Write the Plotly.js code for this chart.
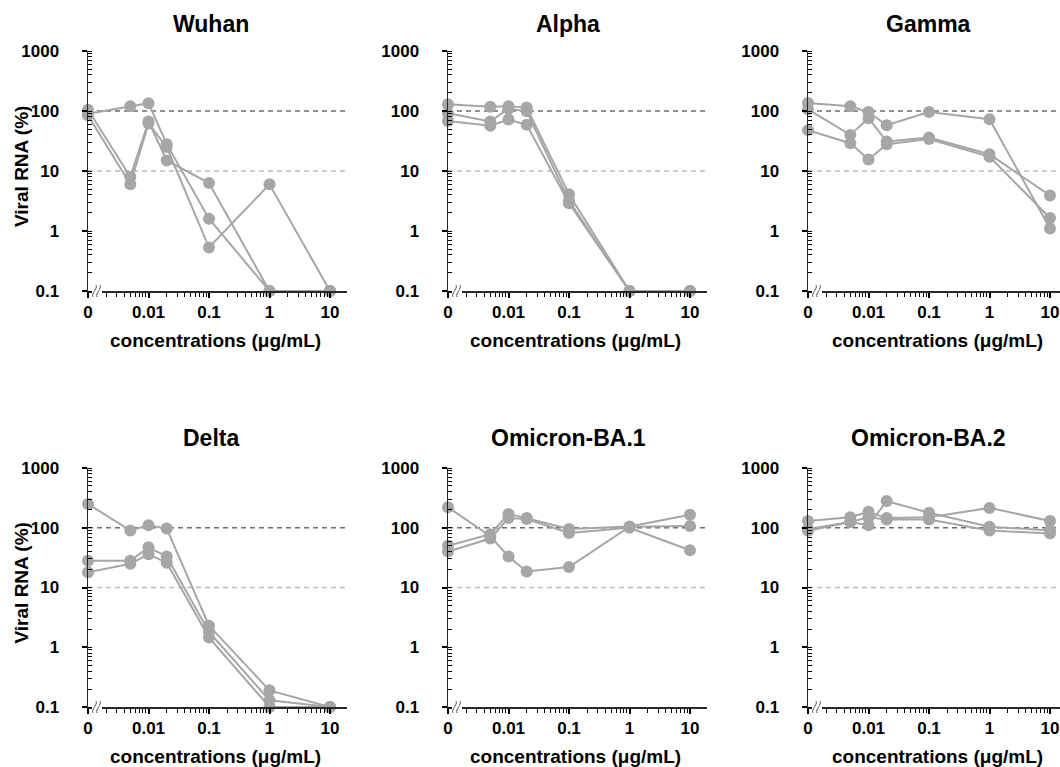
<!DOCTYPE html>
<html>
<head>
<meta charset="utf-8">
<script src="https://cdn.plot.ly/plotly-3.0.1.min.js"></script>
<style>html,body{margin:0;padding:0;background:#fff;}#chart{width:1060px;height:767px;}</style>
</head>
<body>
<div id="chart"></div>
<script>
// ---- data ----
const conc = [0, 0.005, 0.01, 0.02, 0.1, 1, 10];
const xZeroLabel = {"0.001": "0"};
const refLines = [100, 10];
const panelTitles = ["Wuhan", "Alpha", "Gamma", "Delta", "Omicron-BA.1", "Omicron-BA.2"];

const wuhan1 = [90, 120, 135, 28, 1.6, 0.1, 0.1];
const wuhan2 = [105, 8, 67, 15, 6.3, 0.1, 0.1];
const wuhan3 = [85, 6, 62, 25, 0.53, 6, 0.1];

const alpha1 = [130, 118, 120, 114, 4.1, 0.1, 0.1];
const alpha2 = [92, 67, 109, 99, 3.2, 0.1, 0.1];
const alpha3 = [68, 57, 72, 59, 2.9, 0.1, 0.1];

const gamma1 = [136, 120, 96, 58, 96, 73, 1.1];
const gamma2 = [107, 40, 76, 31, 36, 19, 3.9];
const gamma3 = [48, 29, 15.6, 28, 34, 17.3, 1.65];

const delta1 = [250, 90, 110, 97, 2.3, 0.19, 0.1];
const delta2 = [28, 28, 47, 33, 1.8, 0.13, 0.1];
const delta3 = [18, 25, 36, 26, 1.45, 0.1, 0.1];

const ba1_1 = [220, 72, 33, 18.5, 22, 104, 107];
const ba1_2 = [50, 78, 170, 145, 95, 105, 165];
const ba1_3 = [40, 66, 145, 140, 82, 100, 42];

const ba2_1 = [95, 125, 110, 280, 178, 104, 90];
const ba2_2 = [130, 150, 185, 145, 150, 215, 130];
const ba2_3 = [89, 125, 150, 137, 137, 90, 80];

const panelSeries = [
  [wuhan1, wuhan2, wuhan3],
  [alpha1, alpha2, alpha3],
  [gamma1, gamma2, gamma3],
  [delta1, delta2, delta3],
  [ba1_1, ba1_2, ba1_3],
  [ba2_1, ba2_2, ba2_3]
];

// ---- layout helpers ----
const W = 1060, H = 767;
const ZERO_POS = 0.001; // where "0" sits on the broken log axis
const toPos = v => (v === 0 ? ZERO_POS : v);

const colPx = [[88, 347], [448, 707], [808, 1060]];
const rowPx = [[51, 291], [468, 707]]; // top, bottom
const pxPerDecade = 60.5;
const FONT = "Liberation Sans, Arial, sans-serif";
const grey = "#a6a6a6";
const axisCol = "#262626";

const traces = [];
const layout = {
  width: W, height: H,
  margin: {l: 0, r: 0, t: 0, b: 0},
  paper_bgcolor: "#fff", plot_bgcolor: "#fff",
  showlegend: false,
  font: {family: FONT, size: 17, color: "#000"},
  shapes: [], annotations: []
};

panelSeries.forEach((series, p) => {
  const r = Math.floor(p / 3), c = p % 3;
  const n = p + 1;
  const xa = n === 1 ? "x" : "x" + n, ya = n === 1 ? "y" : "y" + n;
  const xk = n === 1 ? "xaxis" : "xaxis" + n, yk = n === 1 ? "yaxis" : "yaxis" + n;
  const [x0, x1] = colPx[c];
  const [yt, yb] = rowPx[r];
  const xmin = Math.log10(ZERO_POS);
  const xmax = xmin + (x1 - x0) / pxPerDecade;

  series.forEach(vals => {
    traces.push({
      x: conc.map(toPos), y: vals, xaxis: xa, yaxis: ya,
      type: "scatter", mode: "lines+markers", cliponaxis: false,
      line: {color: grey, width: 2},
      marker: {color: grey, size: 12}
    });
  });

  const xAxis = {
    type: "log", domain: [x0 / W, x1 / W], anchor: ya,
    range: [xmin, xmax],
    showline: true, linecolor: axisCol, linewidth: 1.5,
    tickmode: "linear", tick0: xmin, dtick: 1,
    exponentformat: "none", labelalias: xZeroLabel,
    ticks: "outside", ticklen: 5, tickwidth: 2, tickcolor: "#000",
    minor: {dtick: "D1", ticks: "outside", ticklen: 4, tickwidth: 1, tickcolor: "#000"},
    tickfont: {family: FONT, size: 17, color: "#000", weight: "bold"}
  };
  const yAxis = {
    type: "log", domain: [1 - yb / H, 1 - yt / H], anchor: xa,
    range: [-1, 3],
    showline: true, linecolor: axisCol, linewidth: 1.5,
    tickmode: "linear", tick0: -1, dtick: 1,
    exponentformat: "none",
    ticks: "outside", ticklen: 5, tickwidth: 2, tickcolor: "#000",
    minor: {dtick: "D1", ticks: "inside", ticklen: 4, tickwidth: 1, tickcolor: "#000"},
    tickfont: {family: FONT, size: 17, color: "#000", weight: "bold"},
    ticksuffix: "\u2007\u2007"
  };
  // per-panel variation of grid settings
  if (p !== 3) {
    xAxis.showgrid = false; xAxis.zeroline = false;
    yAxis.showgrid = false; yAxis.zeroline = false;
  } else {
    xAxis.gridcolor = "rgba(0,0,0,0)"; yAxis.gridcolor = "rgba(0,0,0,0)";
    xAxis.zeroline = false; yAxis.zeroline = false;
  }
  layout[xk] = xAxis;
  layout[yk] = yAxis;

  // reference dashed lines
  refLines.forEach((v, i) => {
    layout.shapes.push({
      type: "line", xref: xa + " domain", yref: ya,
      x0: 0, x1: 1, y0: v, y1: v, layer: "below",
      line: {color: i === 0 ? "#6e6e6e" : "#bcbcbc", width: 1.3, dash: "5px,4px"}
    });
  });

  // axis break mark
  const pw = x1 - x0, ph = yb - yt;
  const fx = px => px / pw, fy = px => px / ph;
  layout.shapes.push({
    type: "rect", xref: xa + " domain", yref: ya + " domain",
    x0: fx(4), x1: fx(14), y0: -fy(6), y1: fy(3),
    line: {width: 0}, fillcolor: "#fff", layer: "above"
  });
  [5, 9].forEach(ox => {
    const xa0 = fx(ox), xa1 = fx(ox + 3);
    const ylo = -fy(6), yhi = fy(6);
    layout.shapes.push({
      type: "path", xref: xa + " domain", yref: ya + " domain", layer: "above",
      path: `M ${xa0},${ylo} C ${fx(ox - 2)},${-fy(2)} ${fx(ox + 5)},${fy(2)} ${xa1},${yhi}`,
      line: {color: "#555", width: 1}
    });
  });

  // panel title
  const titleCx = [211, 568, 928][c];
  const titleCy = r === 0 ? 24 : 438;
  layout.annotations.push({
    text: panelTitles[p], xref: "paper", yref: "paper",
    x: titleCx / W, y: 1 - titleCy / H, xanchor: "center", yanchor: "middle",
    showarrow: false, font: {family: FONT, size: 23, color: "#000", weight: "bold"}
  });
  // x-axis title
  const xtCx = [215, 575, 937][c];
  layout.annotations.push({
    text: "concentrations (μg/mL)", xref: "paper", yref: "paper",
    x: xtCx / W, y: 1 - (yb + 49) / H, xanchor: "center", yanchor: "middle",
    showarrow: false, font: {family: FONT, size: 19, color: "#000", weight: "bold"}
  });
  // y-axis title (first column only)
  if (c === 0) {
    layout.annotations.push({
      text: "Viral RNA (%)", xref: "paper", yref: "paper",
      x: 21 / W, y: 1 - ((yt + yb) / 2 - 4) / H, xanchor: "center", yanchor: "middle",
      textangle: -90, showarrow: false,
      font: {family: FONT, size: 19, color: "#000", weight: "bold"}
    });
  }
});

Plotly.newPlot("chart", traces, layout, {staticPlot: true, displayModeBar: false});
</script>
</body>
</html>
